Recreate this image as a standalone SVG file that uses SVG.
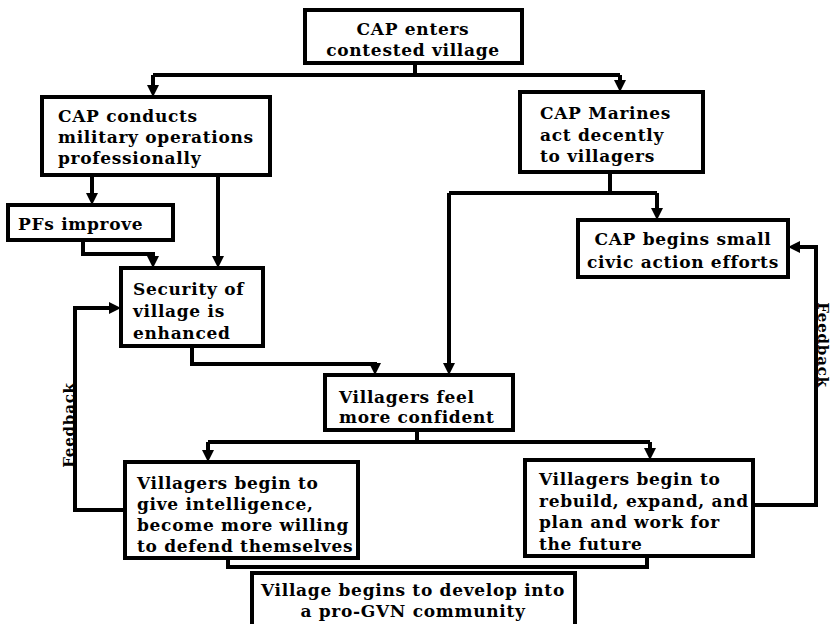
<svg xmlns="http://www.w3.org/2000/svg" width="831" height="624" viewBox="0 0 831 624">
<defs>
<marker id="ah" viewBox="0 0 12 12" refX="6" refY="6" markerWidth="12" markerHeight="12" markerUnits="userSpaceOnUse" orient="auto">
<path d="M0,0 L12,6 L0,12 z" fill="#000"/>
</marker>
<style>
.box{fill:#fff;stroke:#000;stroke-width:4}
.t{font-family:"DejaVu Serif","Liberation Serif",serif;font-weight:bold;font-size:17px;letter-spacing:0.7px;fill:#000}
.c{text-anchor:middle}
.fb{font-family:"DejaVu Serif","Liberation Serif",serif;font-size:15px;letter-spacing:0.8px;fill:#000;text-anchor:middle}
.ln{fill:none;stroke:#000;stroke-width:4}
.ar{marker-end:url(#ah)}
</style>
</defs>
<rect width="831" height="624" fill="#fff"/>
<g id="connectors">
<path class="ln" d="M415,63 V75 M153,75 H620"/>
<path class="ln ar" d="M153,75 V91"/>
<path class="ln ar" d="M620,75 V86"/>
<path class="ln ar" d="M92,175 V199"/>
<path class="ln ar" d="M218,175 V262"/>
<path class="ln ar" d="M83,240 V254 H153 V262"/>
<path class="ln ar" d="M192,346 V364 H375 V369"/>
<path class="ln" d="M610,172 V193 M449,193 H657"/>
<path class="ln ar" d="M657,193 V214"/>
<path class="ln ar" d="M449,193 V369"/>
<path class="ln" d="M417,430 V442 M208,442 H650"/>
<path class="ln ar" d="M208,442 V456"/>
<path class="ln ar" d="M650,442 V454"/>
<path class="ln ar" d="M125,510 H75 V308 H115"/>
<path class="ln ar" d="M753,505 H816 V247 H794"/>
<path class="ln" d="M228,558 V567 H647 V556"/>
<text class="fb" font-weight="bold" transform="translate(74,425) rotate(-90)">Feedback</text>
<text class="fb" font-weight="bold" font-size="14" transform="translate(818,345) rotate(90)">Feedback</text>
</g>
<g id="n1">
<rect class="box" x="305" y="10" width="217" height="53"/>
<text class="t c" x="413" y="35">CAP enters</text>
<text class="t c" x="413" y="56">contested village</text>
</g>
<g id="n2">
<rect class="box" x="42" y="97" width="228" height="78"/>
<text class="t" x="58" y="122">CAP conducts</text>
<text class="t" x="58" y="143">military operations</text>
<text class="t" x="58" y="164">professionally</text>
</g>
<g id="n3">
<rect class="box" x="520" y="92" width="183" height="80"/>
<text class="t" x="540" y="119">CAP Marines</text>
<text class="t" x="540" y="141">act decently</text>
<text class="t" x="540" y="162">to villagers</text>
</g>
<g id="n4">
<rect class="box" x="8" y="205" width="165" height="35"/>
<text class="t" x="18" y="230">PFs improve</text>
</g>
<g id="n5">
<rect class="box" x="121" y="268" width="142" height="78"/>
<text class="t" x="133" y="295">Security of</text>
<text class="t" x="133" y="317">village is</text>
<text class="t" x="133" y="339">enhanced</text>
</g>
<g id="n6">
<rect class="box" x="578" y="220" width="210" height="57"/>
<text class="t c" x="683" y="245">CAP begins small</text>
<text class="t c" x="683" y="268">civic action efforts</text>
</g>
<g id="n7">
<rect class="box" x="325" y="375" width="188" height="55"/>
<text class="t" x="339" y="403">Villagers feel</text>
<text class="t" x="339" y="423">more confident</text>
</g>
<g id="n8">
<rect class="box" x="125" y="462" width="233" height="96"/>
<text class="t" x="137" y="489">Villagers begin to</text>
<text class="t" x="137" y="510">give intelligence,</text>
<text class="t" x="137" y="531">become more willing</text>
<text class="t" x="137" y="552">to defend themselves</text>
</g>
<g id="n9">
<rect class="box" x="525" y="460" width="228" height="96"/>
<text class="t" x="539" y="485">Villagers begin to</text>
<text class="t" x="539" y="507">rebuild, expand, and</text>
<text class="t" x="539" y="528">plan and work for</text>
<text class="t" x="539" y="550">the future</text>
</g>
<g id="n10">
<rect class="box" x="252" y="573" width="323" height="60"/>
<text class="t c" x="413" y="596">Village begins to develop into</text>
<text class="t c" x="413" y="617">a pro-GVN community</text>
</g>
</svg>
